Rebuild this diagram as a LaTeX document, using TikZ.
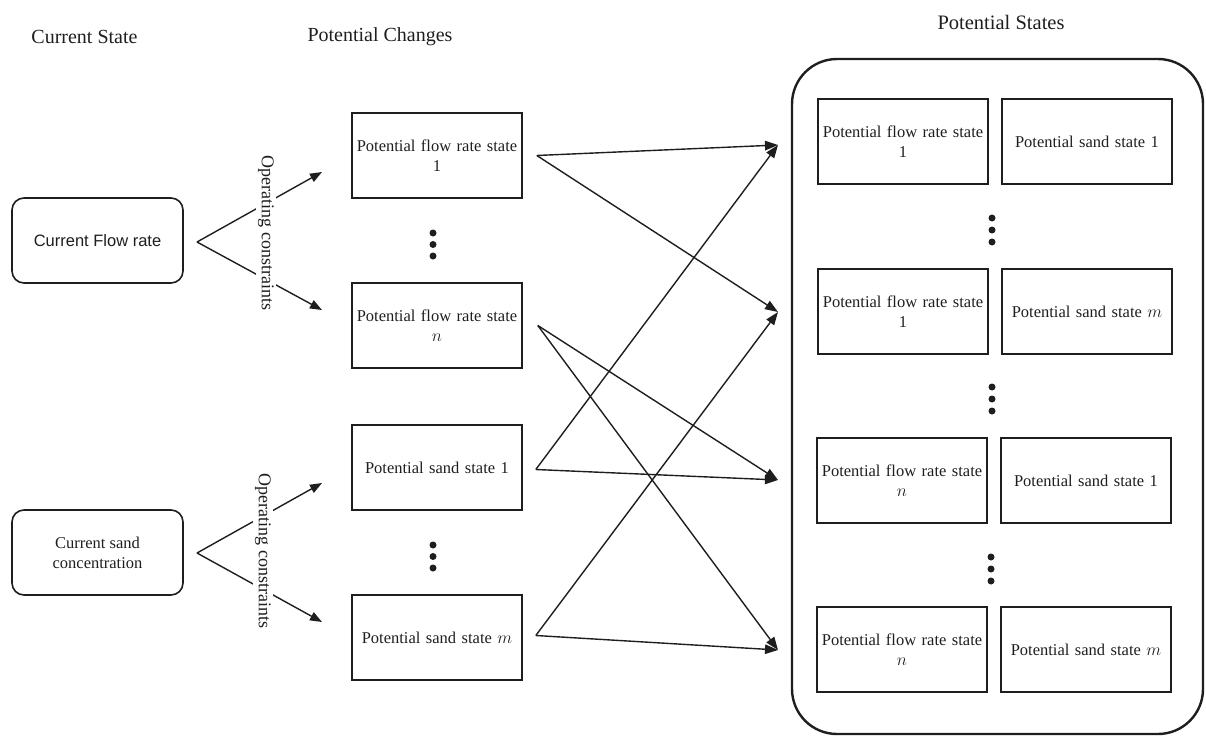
\documentclass[tikz,border=0pt]{standalone}
\usepackage{fontspec}
\setmainfont{Liberation Serif}
\newfontfamily\sansbox{Liberation Sans}
\usetikzlibrary{arrows.meta}
\definecolor{ink}{RGB}{30,30,30}

\begin{document}
\begin{tikzpicture}[x=1pt, y=-1pt,
  every node/.style={text=ink},
  heading/.style={font=\fontsize{20}{24}\selectfont, inner sep=0pt},
  currentbox/.style={draw=ink, line width=1.6pt, rounded corners=12pt,
    minimum width=171pt, minimum height=85pt, inner sep=0pt, align=center},
  changebox/.style={draw=ink, line width=1.6pt, minimum width=170pt,
    minimum height=85pt, inner sep=0pt, text width=168pt, align=center,
    font=\fontsize{16.5}{19.5}\selectfont},
  container/.style={draw=ink, line width=2.4pt, rounded corners=45pt,
    minimum width=411pt, minimum height=675pt, inner sep=0pt},
  dotmark/.style={circle, fill=ink, draw=none, inner sep=0pt, minimum size=7pt},
  fork/.style={draw=ink, line width=1.4pt},
  forkarrow/.style={fork, -{Triangle[length=12pt,width=9pt]}},
  link/.style={draw=ink, line width=1.4pt, -{Triangle[length=13pt,width=9.5pt]}},
  constraint/.style={rotate=-90, fill=white, inner sep=2pt,
    font=\fontsize{18}{20}\selectfont}
]
\useasboundingbox (0,0) rectangle (1206,736);

% column headings
\node[heading] (hcur) at (84.5,37) {Current State};
\node[heading] (hchg) at (380,37) {Potential Changes};
\node[heading, font=\fontsize{20.5}{24}\selectfont] (hsta) at (1001,22) {Potential States};

% current state
\node[currentbox, font=\sansbox\fontsize{16.5}{20}\selectfont] (cf) at (97.5,240.5) {Current Flow rate};
\node[currentbox, font=\fontsize{16.5}{20}\selectfont] (cs) at (97.5,552.5) {Current sand\\concentration};

% potential changes
\node[changebox] (pf1) at (437,155.5) {Potential flow rate state\\1};
\node[changebox] (pfn) at (437,325.5) {Potential flow rate state\\$n$};
\node[changebox] (ps1) at (437,467.5) {Potential sand state 1};
\node[changebox] (psm) at (437,637.5) {Potential sand state $m$};

\foreach \y [count=\i] in {233,244.5,256} \node[dotmark] (da\i) at (433,\y) {};
\foreach \y [count=\i] in {545,556.5,568} \node[dotmark] (db\i) at (433,\y) {};

% potential states
\node[container] (states) at (997.5,396.5) {};
\node[changebox] (r1a) at (903,141.5) {Potential flow rate state\\1};
\node[changebox] (r1b) at (1087,141.5) {Potential sand state 1};
\node[changebox] (r2a) at (903,311.5) {Potential flow rate state\\1};
\node[changebox] (r2b) at (1087,311.5) {Potential sand state $m$};
\node[changebox] (r3a) at (902,480.5) {Potential flow rate state\\$n$};
\node[changebox] (r3b) at (1086,480.5) {Potential sand state 1};
\node[changebox] (r4a) at (902,649.5) {Potential flow rate state\\$n$};
\node[changebox] (r4b) at (1086,649.5) {Potential sand state $m$};

\foreach \y [count=\i] in {218,230,242} \node[dotmark] (dc\i) at (992,\y) {};
\foreach \y [count=\i] in {387,399,411} \node[dotmark] (dd\i) at (992,\y) {};
\foreach \y [count=\i] in {557,569,581} \node[dotmark] (de\i) at (991,\y) {};

% fork points and arrow ends
\coordinate (a1) at (197,242);
\coordinate (a2) at (197,553);
\coordinate (f1) at (322,172);
\coordinate (f2) at (322,310);
\coordinate (f3) at (322,483);
\coordinate (f4) at (322,622);
\coordinate (t1) at (778,145);
\coordinate (t2) at (778,312);
\coordinate (t3) at (778,480);
\coordinate (t4) at (778,650);

% operating constraints forks
\draw[forkarrow] (a1) -- (f1);
\draw[forkarrow] (a1) -- (f2);
\draw[forkarrow] (a2) -- (f3);
\draw[forkarrow] (a2) -- (f4);
\node[constraint] (oc1) at (266,233) {Operating constraints};
\node[constraint] (oc2) at (263,551) {Operating constraints};

% combinations of changes into states
\draw[link] ([xshift=14pt]pf1.east) -- (t1);
\draw[link] ([xshift=14pt]pf1.east) -- (t2);
\draw[link] ([xshift=15pt]pfn.east) -- (t3);
\draw[link] ([xshift=15pt]pfn.east) -- (t4);
\draw[link] ([xshift=13pt,yshift=-2pt]ps1.east) -- (t1);
\draw[link] ([xshift=13pt,yshift=-2pt]ps1.east) -- (t3);
\draw[link] ([xshift=13pt,yshift=2pt]psm.east) -- (t2);
\draw[link] ([xshift=13pt,yshift=2pt]psm.east) -- (t4);
\end{tikzpicture}
\end{document}
